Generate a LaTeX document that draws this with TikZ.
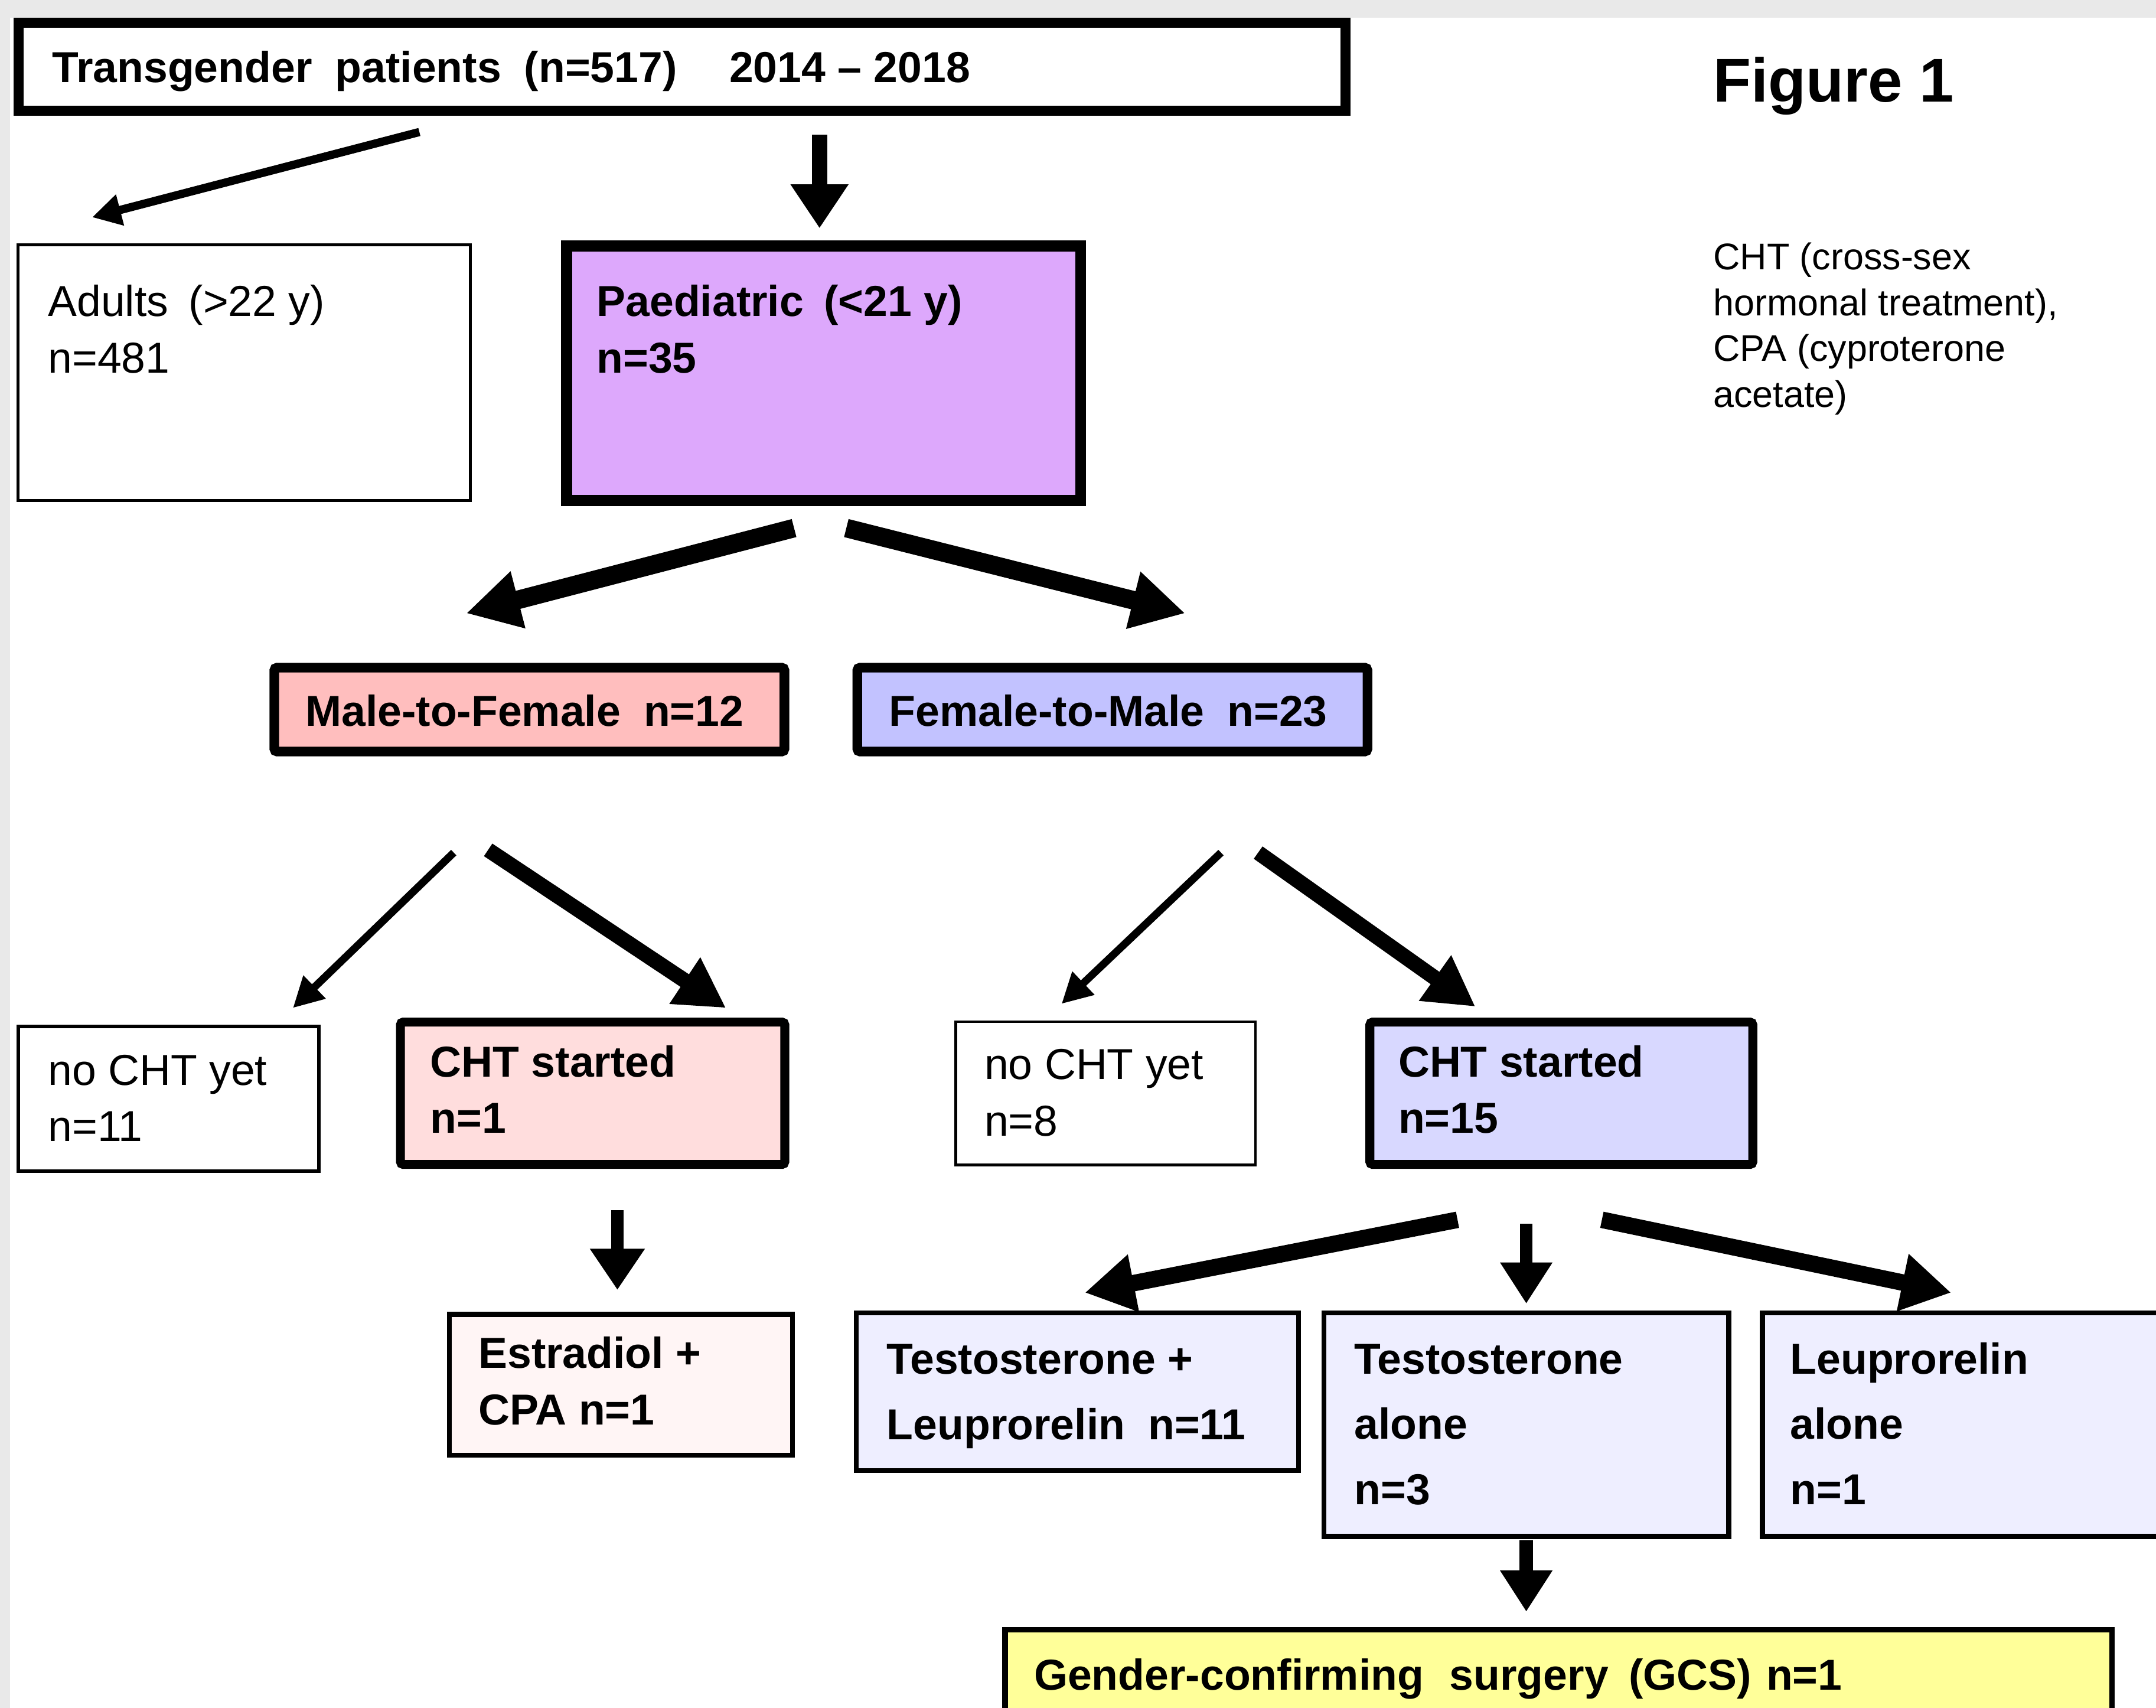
\documentclass[tikz,border=0pt]{standalone}
\usepackage{fontspec}
\setmainfont{Liberation Sans}
\usetikzlibrary{arrows.meta}
\definecolor{bggray}{RGB}{233,233,233}
\definecolor{paedfill}{RGB}{221,168,252}
\definecolor{mtffill}{RGB}{255,190,190}
\definecolor{ftmfill}{RGB}{194,194,255}
\definecolor{chtpink}{RGB}{255,221,221}
\definecolor{chtblue}{RGB}{216,216,255}
\definecolor{estrfill}{RGB}{255,245,245}
\definecolor{tfill}{RGB}{238,238,255}
\definecolor{gcsfill}{RGB}{255,255,153}
\begin{document}
\begin{tikzpicture}[x=1pt,y=-1pt,
  box/.style={draw=black, rectangle, inner sep=0pt, outer sep=0pt, anchor=north west},
  lbl/.style={anchor=base west, inner sep=0pt, outer sep=0pt, align=left, font=\fontsize{31.5}{41}\selectfont},
  blbl/.style={lbl, font=\fontsize{31.5}{41}\selectfont\bfseries},
  blkarrow/.style n args={3}{draw=black, line width=#1, line cap=butt, -{Triangle[length=#2, width=#3]}},
]
\useasboundingbox (0,0) rectangle (1568,1242);
\clip (0,0) rectangle (1568,1242);
\fill[white] (0,0) rectangle (1568,1242);
\fill[bggray] (0,0) rectangle (1568,13);
\fill[bggray] (0,0) rectangle (7.5,1242);

% boxes
\node[box, line width=7pt, fill=white, minimum width=965pt, minimum height=64pt] (top) at (13.5,16.5) {};
\node[box, line width=2pt, fill=white, minimum width=329pt, minimum height=186pt] (adults) at (13,178) {};
\node[box, line width=8pt, fill=paedfill, minimum width=374pt, minimum height=185pt] (paed) at (412,179) {};
\node[box, line width=7pt, fill=mtffill, minimum width=371pt, minimum height=61pt, rounded corners=2pt] (mtf) at (199.5,485.5) {};
\node[box, line width=7pt, fill=ftmfill, minimum width=371pt, minimum height=61pt, rounded corners=2pt] (ftm) at (623.5,485.5) {};
\node[box, line width=2.5pt, fill=white, minimum width=218.5pt, minimum height=105.5pt] (noL) at (13.25,746.25) {};
\node[box, line width=6.5pt, fill=chtpink, minimum width=279.5pt, minimum height=103.5pt, rounded corners=2pt] (chtL) at (291.25,743.25) {};
\node[box, line width=2pt, fill=white, minimum width=218pt, minimum height=104pt] (noR) at (695,743) {};
\node[box, line width=6.5pt, fill=chtblue, minimum width=278.5pt, minimum height=103.5pt, rounded corners=2pt] (chtR) at (996.25,743.25) {};
\node[box, line width=3.5pt, fill=estrfill, minimum width=249.5pt, minimum height=102.5pt] (estr) at (326.75,955.75) {};
\node[box, line width=3.5pt, fill=tfill, minimum width=321.5pt, minimum height=114.5pt] (tl) at (622.75,954.75) {};
\node[box, line width=3.5pt, fill=tfill, minimum width=294.5pt, minimum height=162.5pt] (ta) at (962.75,954.75) {};
\node[box, line width=3.5pt, fill=tfill, minimum width=306.5pt, minimum height=162.5pt] (la) at (1281.75,954.75) {};
\node[box, line width=4pt, fill=gcsfill, minimum width=805pt, minimum height=83pt] (gcs) at (731,1185) {};

% texts (anchor = baseline of the last line)
\node[blbl] (topt) at (38,60) {Transgender\hspace{8pt} patients\hspace{8pt} (n=517)\hspace{38pt}2014 – 2018};
\node[lbl] (adultst) at (35,271) {Adults\hspace{6pt} (>22 y)\\n=481};
\node[blbl] (paedt) at (434,271) {Paediatric\hspace{6pt} (<21 y)\\n=35};
\node[blbl, anchor=base] (mtft) at (381.5,528) {Male-to-Female\hspace{8pt} n=12};
\node[blbl, anchor=base] (ftmt) at (806,528) {Female-to-Male\hspace{8pt} n=23};
\node[lbl] (noLt) at (35,830) {no CHT yet\\n=11};
\node[blbl] (chtLt) at (313,824) {CHT started\\n=1};
\node[lbl] (noRt) at (716,826) {no CHT yet\\n=8};
\node[blbl] (chtRt) at (1017,824) {CHT started\\n=15};
\node[blbl] (estrt) at (348,1036) {Estradiol +\\CPA n=1};
\node[blbl, font=\fontsize{31.5}{48}\selectfont\bfseries] (tlt) at (645,1047) {Testosterone +\\Leuprorelin\hspace{8pt} n=11};
\node[blbl, font=\fontsize{31.5}{47.5}\selectfont\bfseries] (tat) at (985,1094) {Testosterone\\alone\\n=3};
\node[blbl, font=\fontsize{31.5}{47.5}\selectfont\bfseries] (lat) at (1302,1094) {Leuprorelin\\alone\\n=1};
\node[blbl] (gcst) at (752,1229) {Gender-confirming\hspace{10pt} surgery\hspace{6pt} (GCS)\hspace{2pt} n=1};
\node[lbl, font=\fontsize{45}{50}\selectfont\bfseries] (fig) at (1246,74) {Figure 1};
\node[lbl, font=\fontsize{27}{33.3}\selectfont] (note) at (1246,296) {CHT (cross-sex\\hormonal treatment),\\CPA (cyproterone\\acetate)};

% arrow end points
\coordinate (a1) at (305,96);   \coordinate (a2) at (67,158);
\coordinate (b1) at (596,98);   \coordinate (b2) at (596,166);
\coordinate (c1) at (577.5,384); \coordinate (c2) at (339,446);
\coordinate (d1) at (615.5,384); \coordinate (d2) at (862,446);
\coordinate (e1) at (330,620);  \coordinate (e2) at (213,733);
\coordinate (f1) at (355,618);  \coordinate (f2) at (528,733);
\coordinate (g1) at (888,620);  \coordinate (g2) at (772,730);
\coordinate (h1) at (915,620);  \coordinate (h2) at (1073,732);
\coordinate (i1) at (449,880);  \coordinate (i2) at (449,938);
\coordinate (j1) at (1060,887); \coordinate (j2) at (789,940);
\coordinate (k1) at (1110,890); \coordinate (k2) at (1110,948);
\coordinate (l1) at (1165,887); \coordinate (l2) at (1419,940);
\coordinate (m1) at (1110,1120); \coordinate (m2) at (1110,1172);

\draw[blkarrow={6pt}{21pt}{22pt}] (a1) -- (a2);
\draw[blkarrow={11pt}{32pt}{40pt}] (b1) -- (b2);
\draw[blkarrow={13.5pt}{39pt}{40pt}] (c1) -- (c2);
\draw[blkarrow={13.5pt}{39pt}{40pt}] (d1) -- (d2);
\draw[blkarrow={5.5pt}{22pt}{22pt}] (e1) -- (e2);
\draw[blkarrow={11pt}{36pt}{38pt}] (f1) -- (f2);
\draw[blkarrow={5.5pt}{22pt}{22pt}] (g1) -- (g2);
\draw[blkarrow={11pt}{36pt}{38pt}] (h1) -- (h2);
\draw[blkarrow={9pt}{30pt}{38pt}] (i1) -- (i2);
\draw[blkarrow={12pt}{36pt}{40pt}] (j1) -- (j2);
\draw[blkarrow={9pt}{30pt}{36pt}] (k1) -- (k2);
\draw[blkarrow={12pt}{36pt}{40pt}] (l1) -- (l2);
\draw[blkarrow={10pt}{30pt}{36pt}] (m1) -- (m2);
\end{tikzpicture}
\end{document}
